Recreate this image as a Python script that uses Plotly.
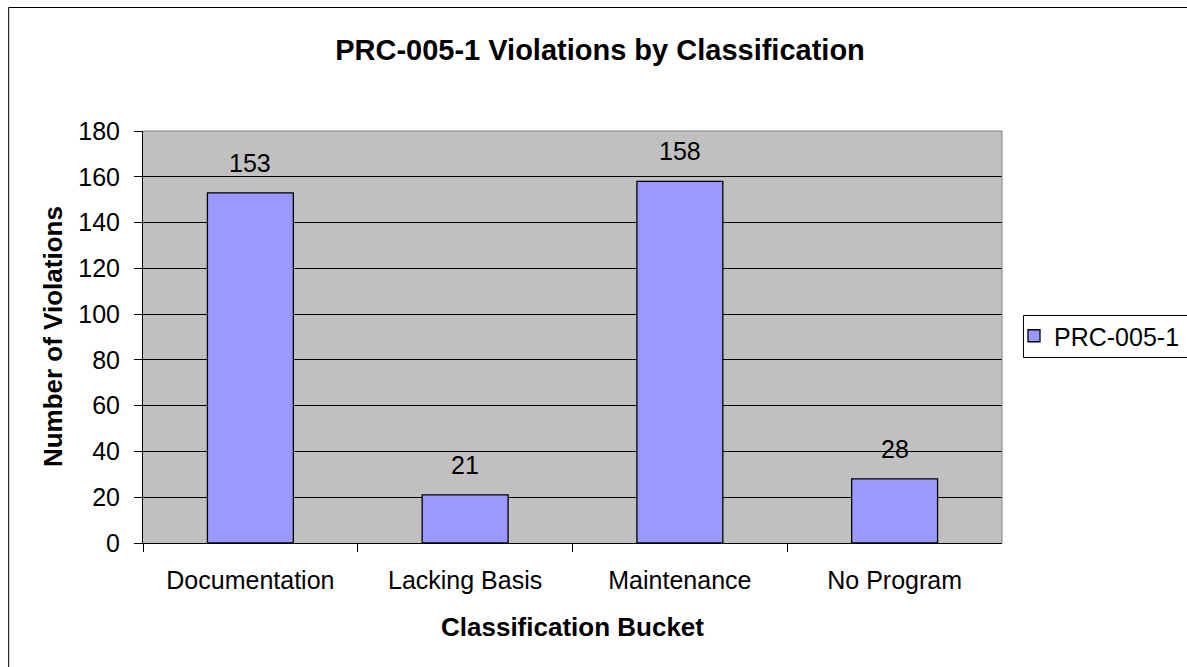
import plotly.graph_objects as go

categories = ["Documentation", "Lacking Basis", "Maintenance", "No Program"]
violations = [153, 21, 158, 28]
series_name = "PRC-005-1"
y_ticks = list(range(0, 181, 20))

W, H = 1187, 667
L, R, T, B = 143, 184, 131, 124
PW, PH = W - L - R, H - T - B
FONT = "Liberation Sans, Arial, sans-serif"


def px_x(p):
    # pixel -> paper x
    return (p - L) / PW


def px_y(p):
    # pixel -> paper y
    return (H - B - p) / PH


fig = go.Figure(
    go.Bar(
        x=categories,
        y=violations,
        name=series_name,
        marker=dict(color="#9999FF", line=dict(color="black", width=1.3)),
        showlegend=True,
    )
)

# data labels above the bars
for c, v in zip(categories, violations):
    fig.add_annotation(
        x=c, y=v, text=str(v), showarrow=False,
        yanchor="bottom", yshift=14,
        font=dict(size=25, color="black"),
    )

# axis titles
fig.add_annotation(
    xref="paper", yref="paper", x=0.5, y=px_y(627),
    text="<b>Classification Bucket</b>", showarrow=False,
    xanchor="center", yanchor="middle", font=dict(size=26, color="black"),
)
fig.add_annotation(
    xref="paper", yref="paper", x=px_x(53), y=0.5,
    text="<b>Number of Violations</b>", showarrow=False, textangle=-90,
    xanchor="center", yanchor="middle", font=dict(size=26, color="black"),
)

fig.update_layout(
    width=W, height=H,
    margin=dict(l=L, r=R, t=T, b=B),
    paper_bgcolor="white",
    plot_bgcolor="#C0C0C0",
    font=dict(family=FONT, color="black"),
    bargap=0.6,
    title=dict(
        text="<b>PRC-005-1 Violations by Classification</b>",
        xref="container", yref="container",
        x=600 / W, y=1 - 50 / H, xanchor="center", yanchor="middle",
        font=dict(size=29, color="black"),
    ),
    xaxis=dict(
        type="category", showline=True, linecolor="black", linewidth=1,
        ticks="outside", tickson="boundaries", ticklen=8, tickcolor="black",
        tickfont=dict(size=25), showgrid=False, ticklabelstandoff=15,
    ),
    yaxis=dict(
        range=[0, 180], tickvals=y_ticks, showgrid=True, gridcolor="black",
        gridwidth=1, showline=True, linecolor="black", linewidth=1,
        ticks="outside", ticklen=8, tickcolor="black", zeroline=False,
        tickfont=dict(size=25), ticklabelstandoff=9,
    ),
    showlegend=True,
    legend=dict(
        xref="container", x=1014 / W, xanchor="left",
        yref="container", y=1 - 336 / H, yanchor="middle",
        bgcolor="rgba(0,0,0,0)", borderwidth=0, font=dict(size=25),
    ),
    shapes=[
        # plot area border, top and right in gray
        dict(type="line", xref="paper", yref="paper", x0=0, x1=1, y0=1, y1=1,
             line=dict(color="#808080", width=1)),
        dict(type="line", xref="paper", yref="paper", x0=1, x1=1, y0=0, y1=1,
             line=dict(color="#808080", width=1)),
        # chart frame
        dict(type="rect", xref="paper", yref="paper",
             x0=px_x(8.5), x1=px_x(1195), y0=px_y(675), y1=px_y(7.5),
             line=dict(color="black", width=1)),
        # legend frame
        dict(type="rect", xref="paper", yref="paper",
             x0=px_x(1024.5), x1=px_x(1195), y0=px_y(357.5), y1=px_y(315.5),
             line=dict(color="black", width=1)),
    ],
)

fig.write_html(
    "out.html",
    config={"displayModeBar": False},
    post_script="document.body.style.margin='0';",
)
